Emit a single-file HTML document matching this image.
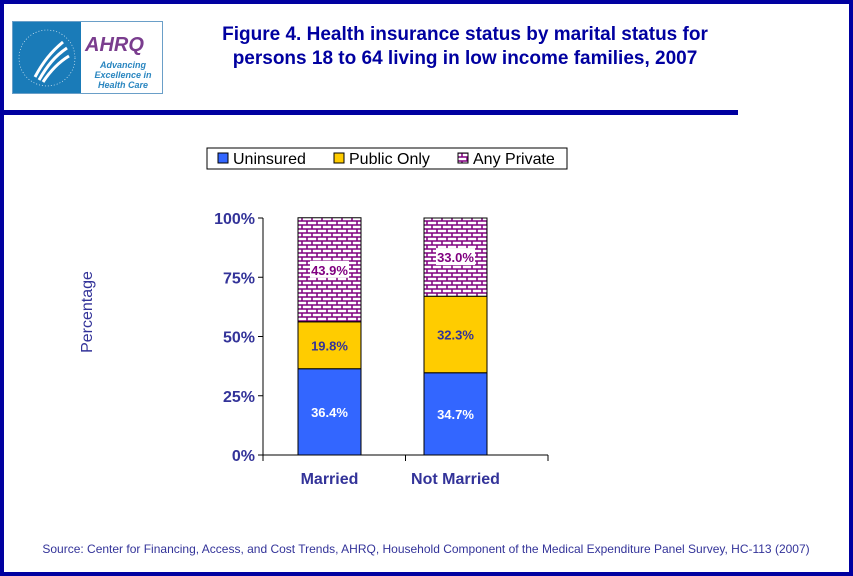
<!DOCTYPE html>
<html><head><meta charset="utf-8"><style>
body{margin:0;width:853px;height:576px;overflow:hidden;background:#fff;font-family:"Liberation Sans",sans-serif}
#frame{position:absolute;left:0;top:0;width:845px;height:568px;border:4px solid #0000a0}
</style></head><body>
<div id="frame"></div>
<div style="position:absolute;left:12px;top:21px;width:149px;height:71px;border:1px solid #6a9fc8;background:#fff">
 <div style="position:absolute;left:0;top:0;width:68px;height:71px;background:#1a7bb8"></div>
 <svg width="68" height="71" style="position:absolute;left:0;top:0"><path d="M22 55 C30 40 38 30 50 20 M26 58 C34 44 42 34 54 26 M30 60 C38 48 46 40 56 34" stroke="#fff" stroke-width="3" fill="none"/><circle cx="34" cy="36" r="28" stroke="#fff" stroke-width="0.6" fill="none" stroke-dasharray="1 2"/></svg>
 <div style="position:absolute;left:72px;top:12px;font:italic bold 20px 'Liberation Sans',sans-serif;color:#7a3d8e">AHRQ</div>
 <div style="position:absolute;left:72px;top:38px;width:76px;text-align:center;font:italic bold 9px 'Liberation Sans',sans-serif;color:#2a86c0;line-height:10px">Advancing<br>Excellence in<br>Health Care</div>
</div>
<div style="position:absolute;left:180px;top:23px;width:570px;text-align:center;font-weight:bold;font-size:19px;line-height:24px;color:#0000a0">Figure 4. Health insurance status by marital status for<br>persons 18 to 64 living in low income families, 2007</div>
<div style="position:absolute;left:0;top:110px;width:738px;height:5px;background:#0000a0"></div>
<svg id="chart" width="853" height="576" style="position:absolute;left:0;top:0">
<defs><pattern id="brick" width="10" height="8" patternUnits="userSpaceOnUse"><rect width="10" height="8" fill="#fff"/><path d="M0 1H10M0 5H10M2 1V5M7 5V9M7 -3V1" stroke="#800080" stroke-width="1.5"/></pattern></defs>
</svg>
<script>
const categories=["Married","Not Married"];
const uninsured=[36.4,34.7];
const publicOnly=[19.8,32.3];
const anyPrivate=[43.9,33.0];
const ticks=[0,25,50,75,100];
const svg=document.getElementById('chart');
const NS='http://www.w3.org/2000/svg';
const y=v=>455-v*2.37;
const x=i=>298+i*126;
function el(t,a){const e=document.createElementNS(NS,t);for(const k in a)e.setAttribute(k,a[k]);svg.appendChild(e);return e;}
const ax=el('line',{x1:263,y1:218,x2:263,y2:455,stroke:'#000'});

const bx=el('line',{x1:263,y1:455,x2:548,y2:455,stroke:'#000'});

ticks.forEach(t=>{
 const l=el('line',{x1:258,y1:y(t),x2:263,y2:y(t),stroke:'#000'});
 
 const tx=el('text',{x:255,y:y(t)+6,'text-anchor':'end','font-size':16,'font-weight':'bold',fill:'#333399','font-family':'Liberation Sans,sans-serif'});
 tx.textContent=t+'%';
});
[0,1,2].forEach(i=>{const xx=263+i*142.5;const l=el('line',{x1:xx,y1:455,x2:xx,y2:461,stroke:'#000'});});
categories.forEach((c,i)=>{
 let base=0;
 const segs=[[uninsured[i],'#3366ff','#fff','uninsured'],[publicOnly[i],'#ffcc00','#333399','public-only'],[anyPrivate[i],'url(#brick)','#800080','any-private']];
 segs.forEach(([v,f,tc,n])=>{
  const r=el('rect',{x:x(i),y:y(base+v),width:63,height:y(base)-y(base+v),fill:f,stroke:'#000','stroke-width':1});
  
  const my=(y(base)+y(base+v))/2;
  if(n==='any-private'){const bg=el('rect',{x:x(i)+12,y:my-9,width:39,height:17,fill:'#fff'});}
  const t=el('text',{x:x(i)+31.5,y:my+5,'text-anchor':'middle','font-size':13,'font-weight':'bold',fill:tc,'font-family':'Liberation Sans,sans-serif'});
  t.textContent=v.toFixed(1)+'%';
  base+=v;
 });
 const ct=el('text',{x:x(i)+31.5,y:484,'text-anchor':'middle','font-size':16,'font-weight':'bold',fill:'#333399','font-family':'Liberation Sans,sans-serif'});
 ct.textContent=c;
});
const yt=el('text',{x:92,y:312,transform:'rotate(-90 92 312)','text-anchor':'middle','font-size':16,fill:'#333399','font-family':'Liberation Sans,sans-serif'});
yt.textContent='Percentage';
const lg=el('rect',{x:207,y:148,width:360,height:21,fill:'#fff',stroke:'#000'});

[['Uninsured','#3366ff',218],['Public Only','#ffcc00',334],['Any Private','url(#brick)',458]].forEach(([n,f,lx])=>{
 const s=el('rect',{x:lx,y:153,width:10,height:10,fill:f,stroke:'#000'});
 
 const t=el('text',{x:lx+15,y:164,'font-size':16,fill:'#000','font-family':'Liberation Sans,sans-serif'});
 t.textContent=n;
});
const src=el('text',{x:426,y:553,'text-anchor':'middle','font-size':12,fill:'#333399','font-family':'Liberation Sans,sans-serif'});
src.textContent='Source: Center for Financing, Access, and Cost Trends, AHRQ, Household Component of the Medical Expenditure Panel Survey, HC-113 (2007)';

</script>
</body></html>
